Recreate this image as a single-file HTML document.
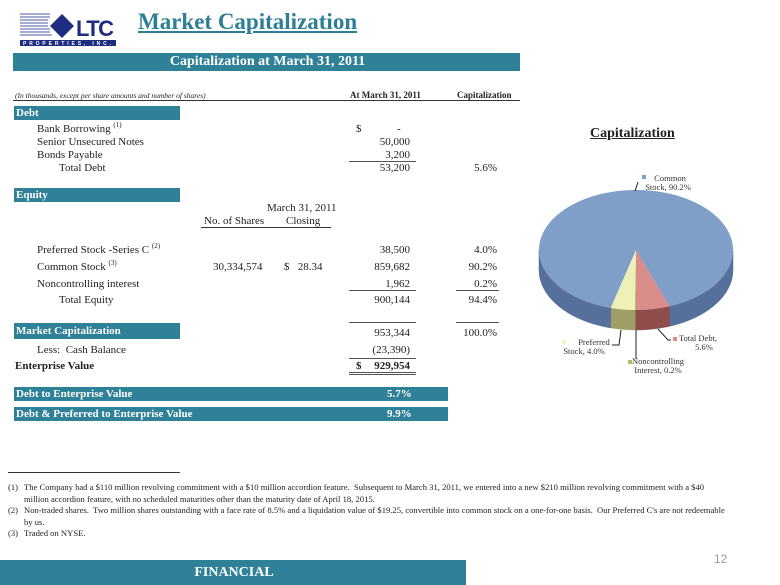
<!DOCTYPE html>
<html><head><meta charset="utf-8">
<style>
body{margin:0;width:780px;height:585px;position:relative;background:#fff;overflow:hidden;font-family:"Liberation Serif",serif;color:#222}
.a{position:absolute;white-space:nowrap;font-size:11px;line-height:12px}
.r{text-align:right}
.bar{position:absolute;background:#2f8198;color:#fff;font-weight:bold;font-size:11px;line-height:14px;padding-left:2px;box-sizing:border-box}
.ln{position:absolute;height:0;border-top:1.5px solid #555}
sup{font-size:7px;vertical-align:5px;line-height:0}
.fn{position:absolute;font-size:8.6px;line-height:11.5px;left:8px;width:720px}
.fn span{position:absolute;left:0}
.fn div{padding-left:16px}
</style></head><body>
<div style="position:absolute;left:20px;top:10px;width:98px;height:36px">
<svg width="98" height="36">
<g stroke="#4a5aa8" stroke-width="1"><line x1="0" y1="4" x2="30" y2="4"/><line x1="0" y1="7" x2="30" y2="7"/><line x1="0" y1="10" x2="28" y2="10"/><line x1="0" y1="13" x2="28" y2="13"/><line x1="0" y1="16" x2="28" y2="16"/><line x1="0" y1="19" x2="30" y2="19"/><line x1="0" y1="22" x2="30" y2="22"/><line x1="0" y1="25" x2="32" y2="25"/></g>
<polygon points="30,16 42,4 54,16 42,28" fill="#1f2d80"/>
<text x="56" y="26" font-family="Liberation Sans" font-weight="bold" font-size="22" fill="#1f2d80" textLength="38">LTC</text>
<rect x="0" y="30" width="96" height="6" fill="#1f2d80"/>
<text x="3" y="35" font-size="5" fill="#fff" font-family="Liberation Sans" font-weight="bold" textLength="88">PROPERTIES, INC.</text>
</svg></div>
<div class="a" style="left:138px;top:8px;font-size:23px;line-height:28px;font-weight:bold;color:#2e7e96;text-decoration:underline">Market Capitalization</div>
<div class="bar" style="left:13px;top:53px;width:507px;height:18px;text-align:center;font-size:14px;line-height:18px">Capitalization at March 31, 2011</div>
<div class="a" style="left:15px;top:90px;font-size:7.5px;font-style:italic">(In thousands, except per share amounts and number of shares)</div>
<div class="a" style="left:350px;top:89px;font-size:9px;font-weight:bold">At March 31, 2011</div>
<div class="a" style="left:457px;top:89px;font-size:9px;font-weight:bold">Capitalization</div>
<div class="ln" style="left:13px;top:100px;width:507px;border-top:1px solid #333"></div>

<div class="bar" style="left:14px;top:106px;width:166px;height:14px">Debt</div>
<div class="a" style="left:37px;top:123px">Bank Borrowing <sup>(1)</sup></div>
<div class="a" style="left:356px;top:123px">$</div><div class="a" style="left:397px;top:123px">-</div>
<div class="a" style="left:37px;top:136px">Senior Unsecured Notes</div><div class="a r" style="left:340px;width:70px;top:136px">50,000</div>
<div class="a" style="left:37px;top:149px">Bonds Payable</div><div class="a r" style="left:340px;width:70px;top:149px">3,200</div>
<div class="ln" style="left:349px;top:161px;width:67px"></div>
<div class="a" style="left:59px;top:162px">Total Debt</div><div class="a r" style="left:340px;width:70px;top:162px">53,200</div><div class="a r" style="left:440px;width:57px;top:162px">5.6%</div>

<div class="bar" style="left:14px;top:188px;width:166px;height:14px">Equity</div>
<div class="a" style="left:267px;top:202px">March 31, 2011</div>
<div class="a" style="left:204px;top:215px">No. of Shares</div><div class="a" style="left:286px;top:215px">Closing</div>
<div class="ln" style="left:201px;top:227px;width:130px;border-top:1px solid #333"></div>
<div class="a" style="left:37px;top:244px">Preferred Stock -Series C <sup>(2)</sup></div><div class="a r" style="left:340px;width:70px;top:244px">38,500</div><div class="a r" style="left:440px;width:57px;top:244px">4.0%</div>
<div class="a" style="left:37px;top:261px">Common Stock <sup>(3)</sup></div><div class="a" style="left:213px;top:261px">30,334,574</div><div class="a" style="left:284px;top:261px">$&nbsp;&nbsp;&nbsp;28.34</div><div class="a r" style="left:340px;width:70px;top:261px">859,682</div><div class="a r" style="left:440px;width:57px;top:261px">90.2%</div>
<div class="a" style="left:37px;top:278px">Noncontrolling interest</div><div class="a r" style="left:340px;width:70px;top:278px">1,962</div><div class="a r" style="left:440px;width:57px;top:278px">0.2%</div>
<div class="ln" style="left:349px;top:290px;width:67px"></div><div class="ln" style="left:456px;top:290px;width:43px"></div>
<div class="a" style="left:59px;top:294px">Total Equity</div><div class="a r" style="left:340px;width:70px;top:294px">900,144</div><div class="a r" style="left:440px;width:57px;top:294px">94.4%</div>
<div class="ln" style="left:349px;top:322px;width:67px"></div><div class="ln" style="left:456px;top:322px;width:43px"></div>
<div class="bar" style="left:14px;top:323px;width:166px;height:16px;line-height:16px">Market Capitalization</div>
<div class="a r" style="left:340px;width:70px;top:327px">953,344</div><div class="a r" style="left:440px;width:57px;top:327px">100.0%</div>
<div class="a" style="left:37px;top:344px">Less:&nbsp; Cash Balance</div><div class="a r" style="left:340px;width:70px;top:344px">(23,390)</div>
<div class="ln" style="left:349px;top:358px;width:67px"></div>
<div class="a" style="left:15px;top:360px;font-weight:bold">Enterprise Value</div>
<div class="a" style="left:356px;top:360px;font-weight:bold">$</div><div class="a r" style="left:340px;width:70px;top:360px;font-weight:bold">929,954</div>
<div class="ln" style="left:349px;top:372px;width:67px;border-top:3px double #555;height:0"></div>

<div class="bar" style="left:14px;top:387px;width:434px;height:14px">Debt to Enterprise Value<span style="position:absolute;left:373px">5.7%</span></div>
<div class="bar" style="left:14px;top:407px;width:434px;height:14px">Debt &amp; Preferred to Enterprise Value<span style="position:absolute;left:373px">9.9%</span></div>

<div class="a" style="left:590px;top:126px;font-size:14px;line-height:16px;font-weight:bold;text-decoration:underline">Capitalization</div>
<svg id="pie" width="780" height="585" style="position:absolute;left:0;top:0;pointer-events:none"></svg>

<div class="ln" style="left:8px;top:472px;width:172px;border-top:1px solid #333"></div>
<div class="fn" style="top:482px"><span>(1)</span><div>The Company had a $110 million revolving commitment with a $10 million accordion feature.&nbsp; Subsequent to March 31, 2011, we entered into a new $210 million revolving commitment with a $40 million accordion feature, with no scheduled maturities other than the maturity date of April 18, 2015.</div></div>
<div class="fn" style="top:505px"><span>(2)</span><div>Non-traded shares.&nbsp; Two million shares outstanding with a face rate of 8.5% and a liquidation value of $19.25, convertible into common stock on a one-for-one basis.&nbsp; Our Preferred C's are not redeemable by us.</div></div>
<div class="fn" style="top:528px"><span>(3)</span><div>Traded on NYSE.</div></div>
<div class="a" style="left:714px;top:553px;font-family:'Liberation Sans',sans-serif;font-size:12px;color:#999">12</div>
<div class="bar" style="left:0;top:560px;width:466px;height:25px;text-align:center;font-size:14px;line-height:25px">FINANCIAL</div>

<script>
const categories=["Noncontrolling Interest","Preferred Stock","Common Stock","Total Debt"];
const values=[0.2,4.0,90.2,5.6];
const NS="http://www.w3.org/2000/svg";
const svg=document.getElementById('pie');
const cx=636,cy=250,rx=97,ry=60,depth=20;
const tops=["#a6c45a","#eef0b8","#7f9fc8","#d98c89"];
const sides=["#7c9440","#9e9e66","#55709a","#8e4d4a"];
const markers=["#a6c45a","#f2f3c0","#7f9fc8","#d98c89"];
const total=values.reduce((a,b)=>a+b,0);
function pt(t,dy){return [cx-rx*Math.sin(t),cy+ry*Math.cos(t)+(dy||0)];}
let angs=[0];values.forEach(v=>angs.push(angs[angs.length-1]+v/total*2*Math.PI));
values.forEach((v,i)=>{
  const a0=angs[i],a1=angs[i+1];const N=240;
  const seg=[];for(let k=0;k<=N;k++){const t=a0+(a1-a0)*k/N;const tt=((t%(2*Math.PI))+2*Math.PI)%(2*Math.PI);if(tt<=Math.PI/2||tt>=3*Math.PI/2)seg.push(t);}
  if(seg.length>1){
    const groups=[];let g=[seg[0]];for(let k=1;k<seg.length;k++){if(seg[k]-seg[k-1]>0.05){groups.push(g);g=[];}g.push(seg[k]);}groups.push(g);
    groups.forEach(gr=>{
      if(gr.length<2)return;
      const up=gr.map(t=>pt(t)),dn=gr.slice().reverse().map(t=>pt(t,depth));
      const p=document.createElementNS(NS,'polygon');
      p.setAttribute('points',up.concat(dn).map(q=>q.join(',')).join(' '));
      p.setAttribute('fill',sides[i]);p.setAttribute('stroke',sides[i]);p.setAttribute('stroke-width','0.5');
      
      
      svg.appendChild(p);
    });
  }
});
values.forEach((v,i)=>{
  const a0=angs[i],a1=angs[i+1];const N=Math.max(4,Math.ceil((a1-a0)*40));
  const pts=[[cx,cy]];for(let k=0;k<=N;k++)pts.push(pt(a0+(a1-a0)*k/N));
  const p=document.createElementNS(NS,'polygon');
  p.setAttribute('points',pts.map(q=>q.join(',')).join(' '));
  p.setAttribute('fill',tops[i]);
  
  
  svg.appendChild(p);
});
// label layout (positions only)
const line1Pos=[[658,364],[594,345],[670,181],[698,341]];
const line2Pos=[[658,373],[584,354],[668,190],[704,350]];
const leaders=[[636,330,636,359],[621,330,619,345,612,345],[635,191,638,182],[658,329,668,340,671,340]];
const markerPos=[[628,360],[562,340],[642,175],[673,337]];
values.forEach((v,i)=>{
  const L=leaders[i];const pl=document.createElementNS(NS,'polyline');
  const pp=[];for(let k=0;k<L.length;k+=2)pp.push(L[k]+','+L[k+1]);
  pl.setAttribute('points',pp.join(' '));pl.setAttribute('fill','none');pl.setAttribute('stroke','#222');pl.setAttribute('stroke-width','1');
  
  
  svg.appendChild(pl);
  const m=document.createElementNS(NS,'rect');
  m.setAttribute('x',markerPos[i][0]);m.setAttribute('y',markerPos[i][1]);m.setAttribute('width',4);m.setAttribute('height',4);m.setAttribute('fill',markers[i]);
  
  
  svg.appendChild(m);
  const name=categories[i].split(' ');
  let line1,line2;
  if(i===3){line1=categories[i]+',';line2=values[i].toFixed(1)+'%';}
  else{line1=name[0];line2=name.slice(1).join(' ')+', '+values[i].toFixed(1)+'%';}
  const t=document.createElementNS(NS,'text');
  t.setAttribute('font-family','Liberation Serif');t.setAttribute('font-size','8.5');t.setAttribute('fill','#333');
  t.setAttribute('text-anchor','middle');
  
  
  [[line1,line1Pos[i]],[line2,line2Pos[i]]].forEach(([s,p])=>{const ts=document.createElementNS(NS,'tspan');ts.setAttribute('x',p[0]);ts.setAttribute('y',p[1]);ts.textContent=s;t.appendChild(ts);});
  svg.appendChild(t);
});
</script>
</body></html>
